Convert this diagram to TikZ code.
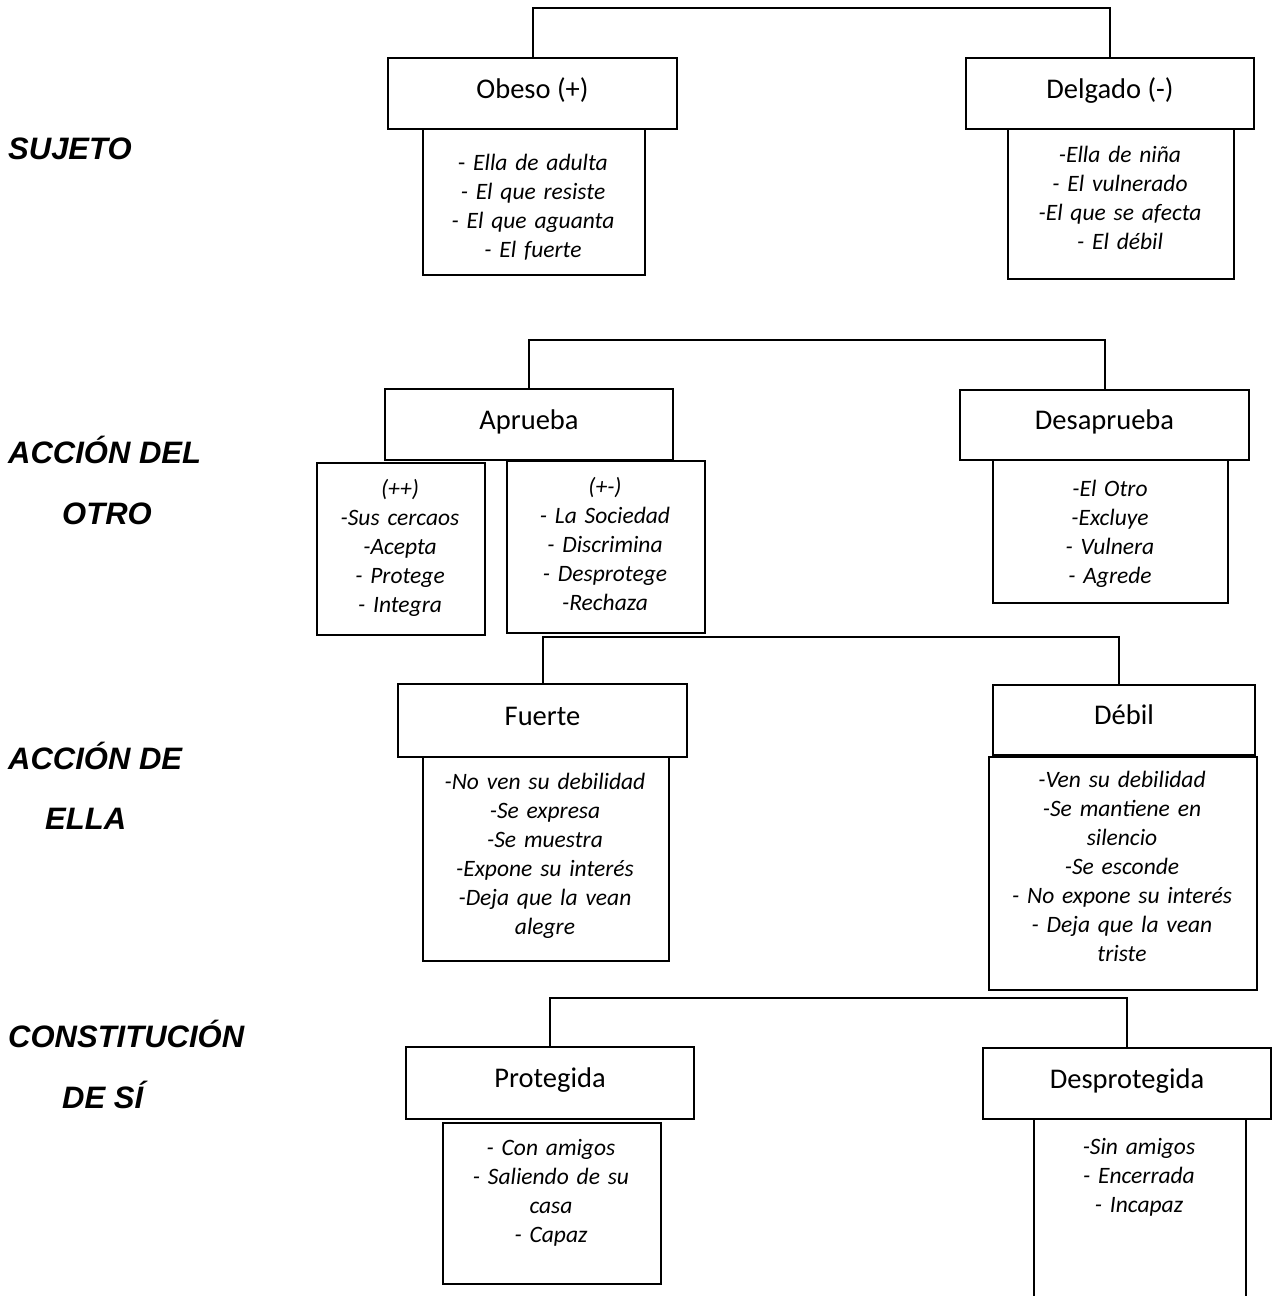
\documentclass[tikz,border=0pt]{standalone}
\usepackage{fontspec}
\setmainfont{Carlito}
\newfontfamily\labelfont{Liberation Sans}
\begin{document}
\begin{tikzpicture}[x=1pt,y=-1pt,
  head/.style={draw, line width=2pt, anchor=north west, inner sep=0pt,
    font=\fontsize{28.5}{34}\selectfont, text height=20pt, text depth=11pt},
  listbox/.style={draw, line width=2pt, anchor=north west, inner sep=0pt},
  listtext/.style={anchor=base, align=center, inner sep=0pt, text width=250pt,
    font=\fontsize{23.5}{29}\selectfont\itshape},
  lab/.style={anchor=base west, inner sep=0pt,
    font={\labelfont\bfseries\itshape\fontsize{31}{37}\selectfont}},
  conn/.style={line width=2pt}]
\useasboundingbox (0,0) rectangle (1273,1296);

% row labels
\node[lab] (lsuj)  at (8,159)  {SUJETO};
\node[lab] (lotr1) at (8,463)  {ACCIÓN DEL};
\node[lab] (lotr2) at (62,524) {OTRO};
\node[lab] (lell1) at (8,769)  {ACCIÓN DE};
\node[lab] (lell2) at (45,829) {ELLA};
\node[lab] (lcon1) at (8,1047) {CONSTITUCIÓN};
\node[lab] (lcon2) at (62,1108){DE SÍ};

% level 1: sujeto
\node[head, minimum width=289pt, minimum height=71pt] (obeso) at (387,57) {Obeso (+)};
\node[head, minimum width=288pt, minimum height=71pt] (delgado) at (965,57) {Delgado (-)};
\node[listbox, minimum width=222pt, minimum height=146pt] (obesoL) at (422,128) {};
\node[listtext] (obesoT) at (533,170) {{\upshape -}\ Ella de adulta\\- El que resiste\\- El que aguanta\\- El fuerte};
\node[listbox, minimum width=226pt, minimum height=150pt] (delgadoL) at (1007,128) {};
\node[listtext] (delgadoT) at (1120,162) {-Ella de niña\\- El vulnerado\\-El que se afecta\\- El débil};
\coordinate (bar1) at (0,8);
\draw[conn] (obeso.north) -- (obeso.north |- bar1) -| (delgado.north);

% level 2: accion del otro
\node[head, minimum width=288pt, minimum height=71pt] (aprueba) at (384,388) {Aprueba};
\node[head, minimum width=289pt, minimum height=70pt] (desaprueba) at (959,389) {Desaprueba};
\node[listbox, minimum width=168pt, minimum height=172pt] (ppL) at (316,462) {};
\node[listtext] (ppT) at (400,496) {(++)\\-Sus cercaos\\-Acepta\\- Protege\\- Integra};
\node[listbox, minimum width=198pt, minimum height=172pt] (pmL) at (506,460) {};
\node[listtext] (pmT) at (605,494) {(+-)\\- La Sociedad\\- Discrimina\\- Desprotege\\-Rechaza};
\node[listbox, minimum width=235pt, minimum height=143pt] (desapL) at (992,459) {};
\node[listtext] (desapT) at (1110,496) {-El Otro\\-Excluye\\- Vulnera\\- Agrede};
\coordinate (bar2) at (0,340);
\draw[conn] (aprueba.north) -- (aprueba.north |- bar2) -| (desaprueba.north);

% level 3: accion de ella
\node[head, minimum width=289pt, minimum height=73pt] (fuerte) at (397,683) {Fuerte};
\node[head, minimum width=262pt, minimum height=70pt] (debil) at (992,684) {Débil};
\node[listbox, minimum width=246pt, minimum height=204pt] (fuerteL) at (422,756) {};
\node[listtext] (fuerteT) at (545,789) {-No ven su debilidad\\-Se expresa\\-Se muestra\\-Expone su interés\\-Deja que la vean\\alegre};
\node[listbox, minimum width=268pt, minimum height=233pt] (debilL) at (988,756) {};
\node[listtext] (debilT) at (1122,787) {-Ven su debilidad\\-Se mantiene en\\silencio\\-Se esconde\\- No expone su interés\\- Deja que la vean\\triste};
\coordinate (bar3) at (0,637);
\draw[conn] (fuerte.north) -- (fuerte.north |- bar3) -| ([xshift=-5pt]debil.north);

% level 4: constitucion de si
\node[head, minimum width=288pt, minimum height=72pt] (protegida) at (405,1046) {Protegida};
\node[head, minimum width=288pt, minimum height=71pt] (desprotegida) at (982,1047) {Desprotegida};
\node[listbox, minimum width=218pt, minimum height=161pt] (protL) at (442,1122) {};
\node[listtext] (protT) at (551,1155) {- Con amigos\\- Saliendo de su\\casa\\- Capaz};
\node[listbox, minimum width=212pt, minimum height=200pt] (desprotL) at (1033,1118) {};
\node[listtext] (desprotT) at (1139,1154) {-Sin amigos\\- Encerrada\\- Incapaz};
\coordinate (bar4) at (0,998);
\draw[conn] (protegida.north) -- (protegida.north |- bar4) -| (desprotegida.north);
\end{tikzpicture}
\end{document}
